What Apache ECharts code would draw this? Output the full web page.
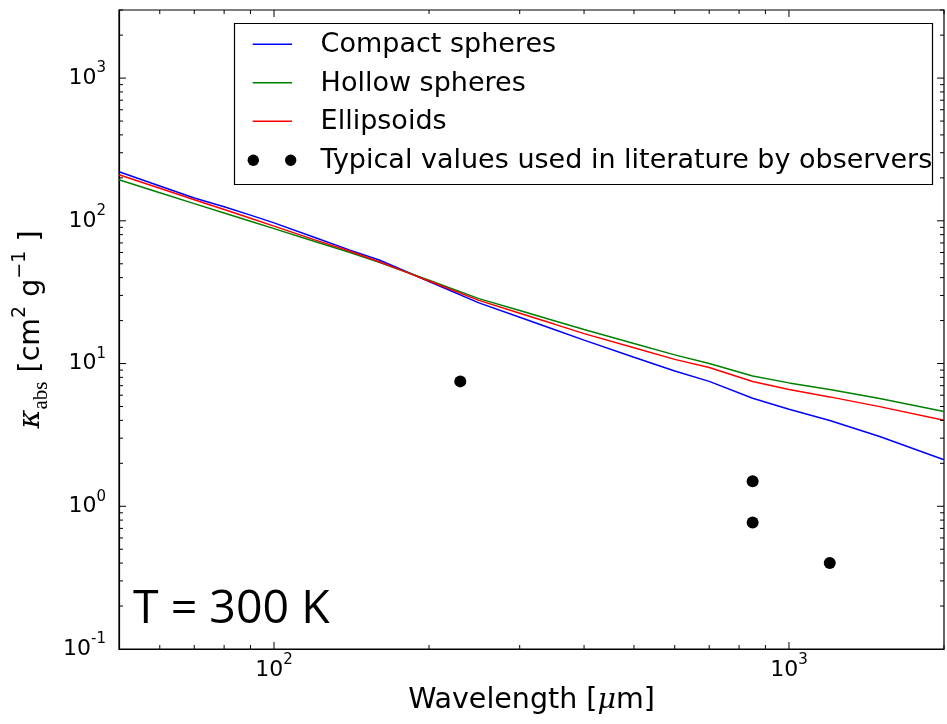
<!DOCTYPE html>
<html>
<head>
<meta charset="utf-8">
<title>Dust absorption opacity at T = 300 K</title>
<script src="https://cdn.jsdelivr.net/npm/echarts@6/dist/echarts.min.js"></script>
<style>
  html, body { margin: 0; padding: 0; background: #fff; }
  #chart { width: 947px; height: 724px; }
</style>
</head>
<body>
<div id="chart"></div>
<script>
// Wavelength grid (micrometres) shared by the three opacity curves
const wavelengths = [50, 60, 70, 80, 90, 100, 120, 140, 160, 180, 200, 250, 300, 350, 400, 500, 600, 700, 850, 1000, 1200, 1500, 2000];

// Absorption opacity kappa_abs (cm^2 g^-1) for each grain shape
const compactSpheres = [220.6, 175.4, 144.7, 125.4, 109.6, 96.8, 76.4, 62.6, 53.2, 44.3, 37.6, 26.6, 21.1, 17.3, 14.6, 11.07, 8.87, 7.50, 5.71, 4.79, 3.99, 3.08, 2.12];
const hollowSpheres  = [193.9, 157.4, 132.0, 113.6, 99.4, 88.2, 71.7, 60.2, 51.3, 44.0, 38.3, 28.5, 23.5, 19.95, 17.3, 13.8, 11.5, 10.0, 8.18, 7.32, 6.57, 5.68, 4.62];
const ellipsoids     = [210.2, 169.0, 140.6, 120.0, 104.3, 91.8, 73.5, 61.4, 51.7, 43.9, 37.9, 27.7, 22.5, 18.9, 16.2, 12.9, 10.7, 9.37, 7.48, 6.59, 5.84, 4.99, 4.00];

// Observers' typical values: wavelength and opacity
const litWavelengths = [230, 850, 850, 1200];
const litOpacities   = [7.5, 1.5, 0.77, 0.4];

// Axis extents and tick positions
const xRange = [50, 2000];
const yRange = [0.1, 3000];
const xMajorTicks = [100, 1000];
const xMinorTicks = [60, 70, 80, 90, 200, 300, 400, 500, 600, 700, 800, 900, 2000];
const yMajorTicks = [1, 10, 100, 1000];
const yMinorTicks = [0.2, 0.3, 0.4, 0.5, 0.6, 0.7, 0.8, 0.9, 2, 3, 4, 5, 6, 7, 8, 9, 20, 30, 40, 50, 60, 70, 80, 90, 200, 300, 400, 500, 600, 700, 800, 900, 2000, 3000];

const seriesNames = ['Compact spheres', 'Hollow spheres', 'Ellipsoids', 'Typical values used in literature by observers'];
const seriesColors = ['#0000ff', '#008000', '#ff0000', '#000000'];

const FONT = 'DejaVu Sans';
const MAJOR_LEN = 7;
const MINOR_LEN = 4;

const pairs = (xs, ys) => xs.map((x, i) => [x, ys[i]]);

// Power-of-ten tick labels with a raised exponent
function powLabel(v) {
  const e = Math.log10(v);
  if (Math.abs(e - Math.round(e)) > 1e-6) return '';
  return '{b|10}{s|' + Math.round(e) + '}';
}
const tickRich = {
  b: { fontFamily: FONT, fontSize: 22, color: '#000', lineHeight: 34 },
  s: { fontFamily: FONT, fontSize: 15, color: '#000', verticalAlign: 'top', lineHeight: 18 }
};

// Inward tick marks mirrored on both sides of the frame
function xTickItem(len) {
  return function (params, api) {
    const cs = params.coordSys;
    const x = api.coord([api.value(0), 1])[0];
    const yb = cs.y + cs.height, yt = cs.y;
    const st = { stroke: '#000', lineWidth: 1 };
    return { type: 'group', children: [
      { type: 'line', shape: { x1: x, y1: yb, x2: x, y2: yb - len }, style: st },
      { type: 'line', shape: { x1: x, y1: yt, x2: x, y2: yt + len }, style: st }
    ] };
  };
}
function yTickItem(len) {
  return function (params, api) {
    const cs = params.coordSys;
    const y = api.coord([100, api.value(1)])[1];
    const xl = cs.x, xr = cs.x + cs.width;
    const st = { stroke: '#000', lineWidth: 1 };
    return { type: 'group', children: [
      { type: 'line', shape: { x1: xl, y1: y, x2: xl + len, y2: y }, style: st },
      { type: 'line', shape: { x1: xr, y1: y, x2: xr - len, y2: y }, style: st }
    ] };
  };
}
function tickSeries(data, render) {
  return { type: 'custom', renderItem: render, data: data, clip: false, silent: true, z: 5, tooltip: { show: false } };
}

// Legend box drawn as graphic elements
const legendX = 234.5, legendY = 23.5, legendW = 698, legendH = 161;
const rowY = [44.3, 82.7, 121.3, 160.3];
const legendGraphics = [
  { type: 'rect', shape: { x: legendX, y: legendY, width: legendW, height: legendH },
    style: { fill: '#fff', stroke: '#000', lineWidth: 1.2 }, z: 20 }
];
seriesNames.forEach(function (name, i) {
  if (i < 3) {
    legendGraphics.push({ type: 'line', shape: { x1: 252.7, y1: rowY[i], x2: 292, y2: rowY[i] },
      style: { stroke: seriesColors[i], lineWidth: 1.5 }, z: 21 });
  } else {
    legendGraphics.push({ type: 'circle', shape: { cx: 253.3, cy: rowY[i], r: 5.7 }, style: { fill: '#000' }, z: 21 });
    legendGraphics.push({ type: 'circle', shape: { cx: 290.7, cy: rowY[i], r: 5.7 }, style: { fill: '#000' }, z: 21 });
  }
  legendGraphics.push({ type: 'text', x: 320.6, y: rowY[i] + 1,
    style: { text: name, fontFamily: FONT, fontSize: 27, fill: '#000', verticalAlign: 'middle', align: 'left' }, z: 21 });
});

const chart = echarts.init(document.getElementById('chart'), null, { renderer: 'canvas' });

chart.setOption({
  backgroundColor: '#fff',
  animation: false,
  grid: { left: 119, right: 1, top: 10, bottom: 75, show: true, borderColor: '#000', borderWidth: 1.2, backgroundColor: 'transparent' },
  xAxis: {
    type: 'log', logBase: 10, min: xRange[0], max: xRange[1],
    name: 'Wavelength [{mu|μ}m]', nameLocation: 'middle', nameGap: 30,
    nameTextStyle: { fontFamily: FONT, fontSize: 28.5, color: '#000',
      rich: { mu: { fontFamily: 'DejaVu Serif', fontStyle: 'italic', fontSize: 28.5, color: '#000' } } },
    axisLine: { show: true, lineStyle: { color: '#000', width: 1.2 } },
    axisTick: { show: false },
    splitLine: { show: false },
    minorTick: { show: false },
    axisLabel: { formatter: powLabel, rich: tickRich, margin: 4, showMinLabel: true, showMaxLabel: true, hideOverlap: false }
  },
  yAxis: {
    type: 'log', logBase: 10, min: yRange[0], max: yRange[1],
    name: '{k|κ}{sub|abs}{t| [cm}{sup|2}{t| g}{sup|−1}{t| ]}', nameLocation: 'middle', nameGap: 61,
    nameTextStyle: {
      rich: {
        k: { fontFamily: 'DejaVu Serif', fontStyle: 'italic', fontSize: 29, color: '#000', lineHeight: 42 },
        sub: { fontFamily: 'Liberation Serif', fontSize: 21, color: '#000', verticalAlign: 'bottom', lineHeight: 31 },
        t: { fontFamily: FONT, fontSize: 28.5, color: '#000', lineHeight: 42 },
        sup: { fontFamily: FONT, fontSize: 19, color: '#000', verticalAlign: 'top', lineHeight: 25 }
      }
    },
    axisLine: { show: true, lineStyle: { color: '#000', width: 1.2 } },
    axisTick: { show: false },
    splitLine: { show: false },
    minorTick: { show: false },
    axisLabel: { formatter: powLabel, rich: tickRich, margin: 13, showMinLabel: true, showMaxLabel: true, hideOverlap: false }
  },
  graphic: legendGraphics.concat([
    { type: 'text', x: 133, y: 610,
      style: { text: 'T = 300 K', fontFamily: 'Open Sans', fontSize: 46.5, fill: '#000', verticalAlign: 'middle', align: 'left' }, z: 21 }
  ]),
  series: [
    { name: seriesNames[0], type: 'line', data: pairs(wavelengths, compactSpheres), showSymbol: false, symbol: 'none',
      lineStyle: { color: seriesColors[0], width: 1.5 }, itemStyle: { color: seriesColors[0] }, z: 3 },
    { name: seriesNames[1], type: 'line', data: pairs(wavelengths, hollowSpheres), showSymbol: false, symbol: 'none',
      lineStyle: { color: seriesColors[1], width: 1.5 }, itemStyle: { color: seriesColors[1] }, z: 3 },
    { name: seriesNames[2], type: 'line', data: pairs(wavelengths, ellipsoids), showSymbol: false, symbol: 'none',
      lineStyle: { color: seriesColors[2], width: 1.5 }, itemStyle: { color: seriesColors[2] }, z: 3 },
    { name: seriesNames[3], type: 'scatter', data: pairs(litWavelengths, litOpacities), symbol: 'circle', symbolSize: 12,
      itemStyle: { color: seriesColors[3], opacity: 1 }, z: 4 },
    tickSeries(xMajorTicks.map(v => [v, 1]), xTickItem(MAJOR_LEN)),
    tickSeries(xMinorTicks.map(v => [v, 1]), xTickItem(MINOR_LEN)),
    tickSeries(yMajorTicks.map(v => [100, v]), yTickItem(MAJOR_LEN)),
    tickSeries(yMinorTicks.map(v => [100, v]), yTickItem(MINOR_LEN))
  ]
});
</script>
</body>
</html>
